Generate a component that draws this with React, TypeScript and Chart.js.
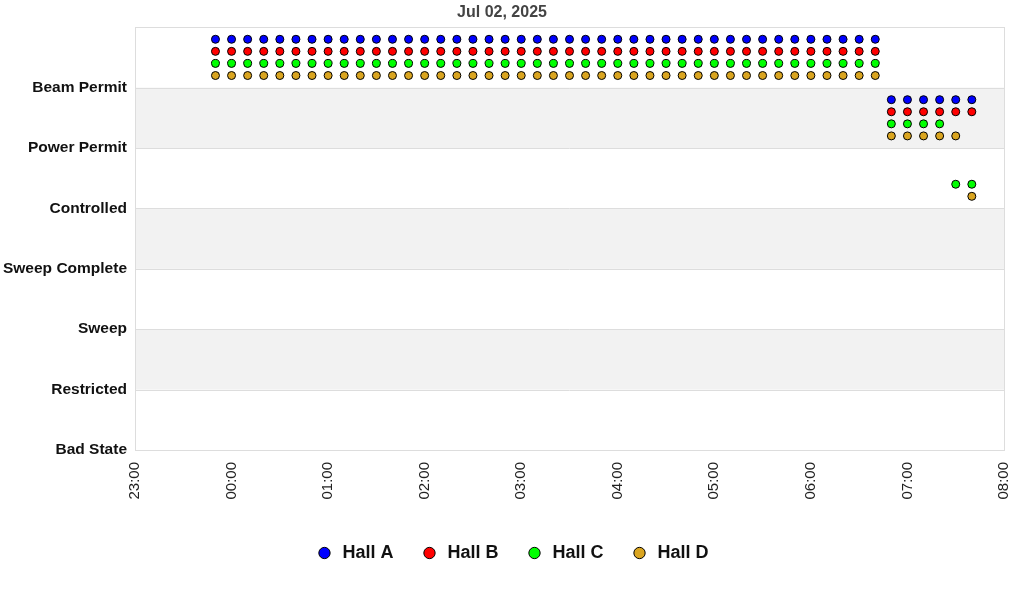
import React, { useEffect, useRef } from "react";
import { Chart, registerables } from "chart.js";

Chart.register(...registerables);

const chartTitle = "Jul 02, 2025";

const stateLabels = [
  "Bad State",
  "Restricted",
  "Sweep",
  "Sweep Complete",
  "Controlled",
  "Power Permit",
  "Beam Permit",
];

const xTickLabels = ["23:00", "00:00", "01:00", "02:00", "03:00", "04:00", "05:00", "06:00", "07:00", "08:00"];

const sampleTimes = [
  "23:50",
  "00:00", "00:10", "00:20", "00:30", "00:40", "00:50",
  "01:00", "01:10", "01:20", "01:30", "01:40", "01:50",
  "02:00", "02:10", "02:20", "02:30", "02:40", "02:50",
  "03:00", "03:10", "03:20", "03:30", "03:40", "03:50",
  "04:00", "04:10", "04:20", "04:30", "04:40", "04:50",
  "05:00", "05:10", "05:20", "05:30", "05:40", "05:50",
  "06:00", "06:10", "06:20", "06:30", "06:40", "06:50",
  "07:00", "07:10", "07:20", "07:30", "07:40",
];

// state index per sample (6 = Beam Permit, 5 = Power Permit, 4 = Controlled)
const hallA = [
  6,
  6, 6, 6, 6, 6, 6,
  6, 6, 6, 6, 6, 6,
  6, 6, 6, 6, 6, 6,
  6, 6, 6, 6, 6, 6,
  6, 6, 6, 6, 6, 6,
  6, 6, 6, 6, 6, 6,
  6, 6, 6, 6, 6, 5,
  5, 5, 5, 5, 5,
];
const hallB = [
  6,
  6, 6, 6, 6, 6, 6,
  6, 6, 6, 6, 6, 6,
  6, 6, 6, 6, 6, 6,
  6, 6, 6, 6, 6, 6,
  6, 6, 6, 6, 6, 6,
  6, 6, 6, 6, 6, 6,
  6, 6, 6, 6, 6, 5,
  5, 5, 5, 5, 5,
];
const hallC = [
  6,
  6, 6, 6, 6, 6, 6,
  6, 6, 6, 6, 6, 6,
  6, 6, 6, 6, 6, 6,
  6, 6, 6, 6, 6, 6,
  6, 6, 6, 6, 6, 6,
  6, 6, 6, 6, 6, 6,
  6, 6, 6, 6, 6, 5,
  5, 5, 5, 4, 4,
];
const hallD = [
  6,
  6, 6, 6, 6, 6, 6,
  6, 6, 6, 6, 6, 6,
  6, 6, 6, 6, 6, 6,
  6, 6, 6, 6, 6, 6,
  6, 6, 6, 6, 6, 6,
  6, 6, 6, 6, 6, 6,
  6, 6, 6, 6, 6, 5,
  5, 5, 5, 5, 4,
];

const hallNames = ["Hall A", "Hall B", "Hall C", "Hall D"];
const hallColors = ["#0000ff", "#ff0000", "#00ff00", "#daa520"];
const hallSeries = [hallA, hallB, hallC, hallD];
const hallOffsets = [0.8, 0.6, 0.4, 0.2];

function toMinutes(t: string): number {
  const [h, m] = t.split(":").map(Number);
  const hour = h >= 12 ? h - 23 : h + 1;
  return hour * 60 + m;
}

const bandPlugin = {
  id: "bands",
  beforeDraw(chart: any) {
    if (chart.legend) chart.legend.left = 20;
  },
  beforeDatasetsDraw(chart: any) {
    const { ctx, chartArea, scales } = chart;
    const y = scales.y;
    ctx.save();
    ctx.fillStyle = "#f2f2f2";
    for (const [hi, lo] of [[6, 5], [4, 3], [2, 1]]) {
      const top = y.getPixelForValue(hi);
      const bot = y.getPixelForValue(lo);
      ctx.fillRect(chartArea.left, top, chartArea.right - chartArea.left, bot - top);
    }
    ctx.strokeStyle = "#dddddd";
    ctx.lineWidth = 1;
    for (let v = 0; v <= 7; v++) {
      const py = Math.round(y.getPixelForValue(v)) + 0.5;
      ctx.beginPath();
      ctx.moveTo(chartArea.left, py);
      ctx.lineTo(chartArea.right, py);
      ctx.stroke();
    }
    ctx.strokeRect(
      Math.round(chartArea.left) + 0.5,
      Math.round(chartArea.top) + 0.5,
      Math.round(chartArea.right - chartArea.left),
      Math.round(chartArea.bottom - chartArea.top)
    );
    ctx.restore();
  },
};

export default function App() {
  const canvasRef = useRef<HTMLCanvasElement | null>(null);

  useEffect(() => {
    if (!canvasRef.current) return;
    const datasets = hallNames.map((name, i) => ({
      label: name,
      data: sampleTimes.map((t, k) => ({ x: toMinutes(t), y: hallSeries[i][k] + hallOffsets[i] })),
      backgroundColor: hallColors[i],
      borderColor: "#000000",
      borderWidth: 1,
      pointRadius: 4,
      pointHoverRadius: 4,
      pointStyle: "circle",
    }));
    const chart = new Chart(canvasRef.current, {
      type: "scatter",
      data: { datasets },
      plugins: [bandPlugin],
      options: {
        animation: false,
        responsive: false,
        maintainAspectRatio: false,
        layout: { padding: { left: 0, right: 20, top: 0, bottom: 28 } },
        plugins: {
          title: {
            display: true,
            text: chartTitle,
            color: "#444444",
            font: { family: "'Liberation Sans', Arial, sans-serif", size: 16, weight: "bold" },
            padding: { top: 3, bottom: 5 },
          },
          legend: {
            display: true,
            position: "bottom",
            labels: {
              usePointStyle: true,
              pointStyle: "circle",
              boxWidth: 18,
              boxHeight: 8,
              padding: 27,
              color: "#111111",
              font: { family: "'Liberation Sans', Arial, sans-serif", size: 18, weight: "bold" },
            },
          },
          tooltip: { enabled: false },
        },
        scales: {
          x: {
            type: "linear",
            min: 0,
            max: 540,
            border: { display: false },
            grid: { display: false, drawTicks: false },
            afterFit: (scale: any) => {
              scale.height = 67;
              scale.paddingLeft = 0;
              scale.paddingRight = 0;
            },
            ticks: {
              stepSize: 60,
              autoSkip: false,
              maxRotation: 90,
              minRotation: 90,
              padding: 12,
              color: "#222222",
              font: { family: "'Liberation Sans', Arial, sans-serif", size: 15 },
              callback: (v: any) => xTickLabels[Math.round(Number(v) / 60)] ?? "",
            },
          },
          y: {
            type: "linear",
            min: 0,
            max: 7,
            border: { display: false },
            grid: { display: false, drawTicks: false },
            afterFit: (scale: any) => {
              scale.width = 135;
            },
            ticks: {
              stepSize: 1,
              autoSkip: false,
              padding: 8,
              color: "#111111",
              font: { family: "'Liberation Sans', Arial, sans-serif", size: 15.5, weight: "bold" },
              callback: (v: any) => stateLabels[Number(v)] ?? "",
            },
          },
        },
      },
    });
    return () => chart.destroy();
  }, []);

  return (
    <div style={{ position: "fixed", left: 0, top: 0, width: 1024, height: 600, background: "#ffffff" }}>
      <canvas ref={canvasRef} width={1024} height={600} style={{ width: 1024, height: 600, display: "block" }} />
    </div>
  );
}
